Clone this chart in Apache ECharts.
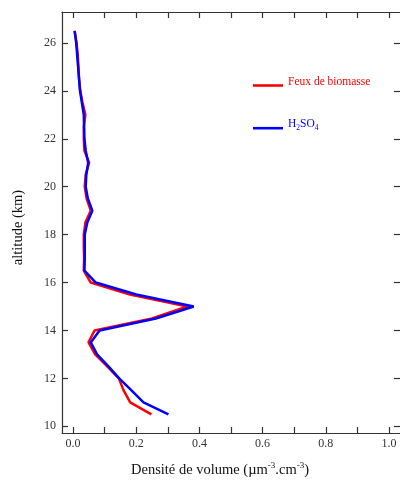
<!DOCTYPE html>
<html>
<head>
<meta charset="utf-8">
<script src="https://cdn.jsdelivr.net/npm/echarts@6/dist/echarts.min.js"></script>
<style>html,body{margin:0;padding:0;background:#fff;}#c{width:400px;height:484px;}</style>
</head>
<body>
<div id="c"></div>
<script>
const altitudes = [26.5, 26, 25.5, 25, 24.5, 24, 23.5, 23, 22.5, 22, 21.5, 21, 20.5, 20, 19.5, 19, 18.5, 18, 17.5, 17, 16.5, 16, 15.5, 15, 14.5, 14, 13.5, 13, 12.5, 12, 11.5, 11, 10.5];
const feuxBiomasse = [0.005, 0.011, 0.015, 0.017, 0.019, 0.023, 0.030, 0.039, 0.034, 0.034, 0.036, 0.051, 0.040, 0.037, 0.043, 0.056, 0.039, 0.034, 0.034, 0.035, 0.034, 0.056, 0.180, 0.362, 0.250, 0.068, 0.049, 0.070, 0.108, 0.145, 0.160, 0.181, 0.248];
const h2so4 = [0.005, 0.010, 0.013, 0.016, 0.019, 0.022, 0.028, 0.034, 0.035, 0.036, 0.040, 0.048, 0.042, 0.040, 0.047, 0.061, 0.045, 0.037, 0.037, 0.037, 0.036, 0.072, 0.200, 0.382, 0.262, 0.084, 0.056, 0.076, 0.112, 0.146, 0.185, 0.223, 0.302];
const xLabelTicks = [0, 0.2, 0.4, 0.6, 0.8, 1.0];
const xMinorTicks = [0, 0.1, 0.2, 0.3, 0.4, 0.5, 0.6, 0.7, 0.8, 0.9, 1.0];
const yTicks = [10, 12, 14, 16, 18, 20, 22, 24, 26];

const FONT = 'Liberation Serif';
const axisLineStyle = { color: '#333', width: 1.2 };
const X_MIN = -0.035, X_MAX = 1.035, Y_MIN = 9.72, Y_MAX = 27.29;

const chart = echarts.init(document.getElementById('c'), null, { renderer: 'canvas' });
chart.setOption({
  animation: false,
  backgroundColor: '#fff',
  grid: { left: 62, right: 0, top: 12, bottom: 51, containLabel: false },
  legend: {
    orient: 'vertical',
    left: 253,
    top: 75.5,
    padding: 0,
    icon: 'rect',
    itemWidth: 30,
    itemHeight: 2.6,
    itemGap: 22.7,
    itemTextGap: 5,
    data: ['Feux de biomasse', 'H2SO4'],
    formatter: function (name) {
      if (name === 'H2SO4') return '{b|H}{bs|2}{b|SO}{bs|4}';
      return '{r|' + name + '}';
    },
    textStyle: {
      fontFamily: FONT,
      rich: {
        r: { color: '#ff0000', fontFamily: FONT, fontSize: 11.5, lineHeight: 14, padding: [0, 0, 8, 0] },
        b: { color: '#0000ff', fontFamily: FONT, fontSize: 11.5, lineHeight: 14, padding: [0, 0, 8, 0] },
        bs: { color: '#0000ff', fontFamily: FONT, fontSize: 7.5, lineHeight: 8, verticalAlign: 'bottom', padding: [0, 0, 3.5, 0] }
      }
    }
  },
  xAxis: [
    {
      type: 'value', position: 'bottom', min: X_MIN, max: X_MAX,
      splitLine: { show: false },
      axisLine: { show: true, onZero: false, lineStyle: axisLineStyle },
      axisTick: { show: true, inside: true, length: 6, customValues: xMinorTicks, lineStyle: axisLineStyle },
      axisLabel: { customValues: xLabelTicks, formatter: v => v.toFixed(1), fontFamily: FONT, fontSize: 12, color: '#333', margin: 5 },
      name: '{t|Densité de volume (µm}{s|-3}{t|.cm}{s|-3}{t|)}',
      nameLocation: 'middle',
      nameGap: 28,
      nameTextStyle: {
        padding: [0, 22, 0, 0],
        rich: {
          t: { fontFamily: FONT, fontSize: 14.5, color: '#111', lineHeight: 18 },
          s: { fontFamily: FONT, fontSize: 9, color: '#111', lineHeight: 9, verticalAlign: 'top' }
        }
      }
    },
    {
      type: 'value', position: 'top', min: X_MIN, max: X_MAX,
      splitLine: { show: false },
      axisLine: { show: true, onZero: false, lineStyle: axisLineStyle },
      axisTick: { show: true, inside: true, length: 6, customValues: xMinorTicks, lineStyle: axisLineStyle },
      axisLabel: { show: false }
    }
  ],
  yAxis: [
    {
      type: 'value', position: 'left', min: Y_MIN, max: Y_MAX,
      splitLine: { show: false },
      axisLine: { show: true, onZero: false, lineStyle: axisLineStyle },
      axisTick: { show: true, inside: true, length: 6, customValues: yTicks, lineStyle: axisLineStyle },
      axisLabel: { customValues: yTicks, fontFamily: FONT, fontSize: 12, color: '#333', margin: 6 },
      name: 'altitude (km)',
      nameLocation: 'middle',
      nameGap: 36,
      nameTextStyle: { fontFamily: FONT, fontSize: 14.5, color: '#111', padding: [0, 10, 0, 0] }
    },
    {
      type: 'value', position: 'right', min: Y_MIN, max: Y_MAX,
      splitLine: { show: false },
      axisLine: { show: false, onZero: false, lineStyle: axisLineStyle },
      axisTick: { show: true, inside: true, length: 6, customValues: yTicks, lineStyle: axisLineStyle },
      axisLabel: { show: false }
    }
  ],
  series: [
    {
      name: 'Feux de biomasse', type: 'line', xAxisIndex: 0, yAxisIndex: 0,
      data: altitudes.map((a, i) => [feuxBiomasse[i], a]),
      symbol: 'none', showSymbol: false,
      lineStyle: { color: '#ff0000', width: 2.5 },
      itemStyle: { color: '#ff0000' }
    },
    {
      name: 'H2SO4', type: 'line', xAxisIndex: 0, yAxisIndex: 0,
      data: altitudes.map((a, i) => [h2so4[i], a]),
      symbol: 'none', showSymbol: false,
      lineStyle: { color: '#0000ff', width: 2.5 },
      itemStyle: { color: '#0000ff' }
    }
  ]
});
</script>
</body>
</html>
